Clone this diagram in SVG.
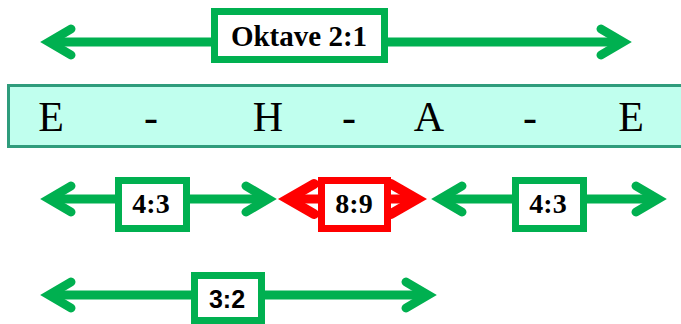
<svg xmlns="http://www.w3.org/2000/svg" width="681" height="324" viewBox="0 0 681 324">
<defs>
<style>
.g{stroke:#00B050;stroke-width:9;fill:none}
.r{stroke:#FF0000;stroke-width:9;fill:none}
.box{fill:#FFFFFF;stroke-width:7}
.gb{stroke:#00B050}
.rb{stroke:#FF0000}
.lbl{font-weight:bold;fill:#000;text-anchor:middle}
.note{font-size:42px;fill:#000;text-anchor:middle}
</style>
<marker id="mg" markerUnits="userSpaceOnUse" viewBox="-40 -25 50 50" markerWidth="50" markerHeight="50" refX="0" refY="0" orient="auto-start-reverse" overflow="visible">
<path d="M -22 -13 L 0 0 L -22 13" fill="none" stroke="#00B050" stroke-width="9" stroke-linecap="round" stroke-linejoin="miter"/>
</marker>
<marker id="mr" markerUnits="userSpaceOnUse" viewBox="-40 -25 50 50" markerWidth="50" markerHeight="50" refX="0" refY="0" orient="auto-start-reverse" overflow="visible">
<path d="M -26 -15 L 0 0 L -26 15" fill="none" stroke="#FF0000" stroke-width="10" stroke-linecap="round" stroke-linejoin="miter"/>
</marker>
</defs>
<rect width="681" height="324" fill="#FFFFFF"/>
<g id="band" font-family="'Liberation Serif', 'Times New Roman', 'DejaVu Serif', serif">
<rect x="8.5" y="85.5" width="700" height="61" fill="#C0FFEE" stroke="#2F9C7C" stroke-width="3"/>
<text class="note" x="51" y="131">E</text>
<text class="note" x="151" y="131">-</text>
<text class="note" x="268" y="131">H</text>
<text class="note" x="349" y="131">-</text>
<text class="note" x="429" y="131">A</text>
<text class="note" x="530" y="131">-</text>
<text class="note" x="631" y="131">E</text>
</g>
<g id="connectors">
<line class="g" x1="49" y1="42" x2="623" y2="42" marker-start="url(#mg)" marker-end="url(#mg)"/>
<line class="g" x1="49" y1="199" x2="268" y2="199" marker-start="url(#mg)" marker-end="url(#mg)"/>
<line class="r" x1="288" y1="199" x2="417" y2="199" marker-start="url(#mr)" marker-end="url(#mr)"/>
<line class="g" x1="440" y1="199" x2="658" y2="199" marker-start="url(#mg)" marker-end="url(#mg)"/>
<line class="g" x1="49" y1="295" x2="428" y2="295" marker-start="url(#mg)" marker-end="url(#mg)"/>
</g>
<g id="oktave" font-family="'Liberation Serif', 'Times New Roman', 'DejaVu Serif', serif">
<rect class="box gb" x="214.5" y="11.5" width="170" height="48"/>
<text class="lbl" x="299" y="46" font-size="29">Oktave 2:1</text>
</g>
<g id="quarte1" font-family="'Liberation Serif', 'Times New Roman', 'DejaVu Serif', serif">
<rect class="box gb" x="118.5" y="180.5" width="68" height="48"/>
<text class="lbl" x="151" y="213" font-size="28">4:3</text>
</g>
<g id="ganzton" font-family="'Liberation Serif', 'Times New Roman', 'DejaVu Serif', serif">
<rect class="box rb" x="321.5" y="180.5" width="66" height="48"/>
<text class="lbl" x="354" y="213" font-size="28">8:9</text>
</g>
<g id="quarte2" font-family="'Liberation Serif', 'Times New Roman', 'DejaVu Serif', serif">
<rect class="box gb" x="515.5" y="180.5" width="68" height="48"/>
<text class="lbl" x="548" y="213" font-size="28">4:3</text>
</g>
<g id="quinte">
<rect class="box gb" x="194.5" y="275.5" width="67" height="45"/>
<text x="227" y="308" font-family="'Liberation Sans', Arial, sans-serif" font-weight="bold" font-size="25" fill="#000" text-anchor="middle">3:2</text>
</g>
</svg>
